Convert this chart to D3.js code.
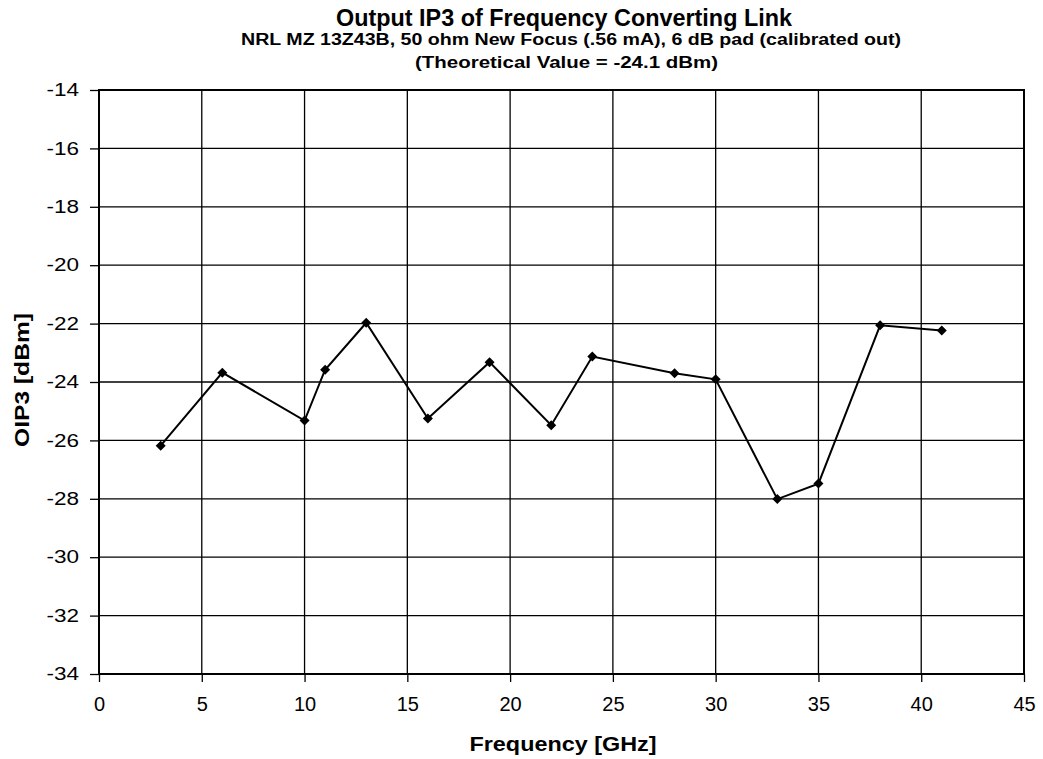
<!DOCTYPE html>
<html><head><meta charset="utf-8">
<script src="https://cdn.jsdelivr.net/npm/d3@7"></script>
<style>body{margin:0;background:#fff}svg{display:block}text{font-family:"Liberation Sans",Arial,sans-serif;fill:#000}</style>
</head><body>
<svg id="c" width="1043" height="759"></svg>
<script>
const freq = [3, 6, 10, 11, 13, 16, 19, 22, 24, 28, 30, 33, 35, 38, 41];
const oip3 = [-26.18, -23.68, -25.32, -23.58, -21.97, -25.25, -23.32, -25.48, -23.13, -23.70, -23.91, -28.01, -27.48, -22.06, -22.24];
const xTicks = [0, 5, 10, 15, 20, 25, 30, 35, 40, 45];
const yTicks = [-14, -16, -18, -20, -22, -24, -26, -28, -30, -32, -34];
const title = "Output IP3 of Frequency Converting Link";
const subtitle1 = "NRL MZ 13Z43B, 50 ohm New Focus (.56 mA), 6 dB pad (calibrated out)";
const subtitle2 = "(Theoretical Value = -24.1 dBm)";
const xLabel = "Frequency [GHz]";
const yLabel = "OIP3 [dBm]";

const svg = d3.select("#c");
const L = 99, R = 1024, T = 90, B = 674;
const x = d3.scaleLinear().domain([0, 45]).range([L, R]);
const y = d3.scaleLinear().domain([-34, -14]).range([B, T]);

// grid
svg.append("g").selectAll("line").data(xTicks).join("line")
  .attr("x1", d => x(d)).attr("x2", d => x(d)).attr("y1", T).attr("y2", B)
  .attr("stroke", "#000").attr("stroke-width", 1.3);
svg.append("g").selectAll("line").data(yTicks).join("line")
  .attr("x1", L).attr("x2", R).attr("y1", d => y(d)).attr("y2", d => y(d))
  .attr("stroke", "#000").attr("stroke-width", 1.3);

// axes
const xa = svg.append("g").attr("transform", `translate(0,${B})`)
  .call(d3.axisBottom(x).tickValues(xTicks).tickSize(8).tickPadding(15).tickFormat(d3.format("d")));
const ya = svg.append("g").attr("transform", `translate(${L},0)`)
  .call(d3.axisLeft(y).tickValues(yTicks).tickSize(9).tickPadding(11).tickFormat(d => d3.format("d")(d).replace("−","-")));
[xa, ya].forEach(a => {
  a.select(".domain").remove();
  a.selectAll("line").attr("stroke", "#000").attr("stroke-width", 1.3);
  a.selectAll("text").attr("font-family", "Liberation Sans, Arial, sans-serif").attr("fill", "#000");
});
xa.selectAll("text").attr("font-size", 20);
ya.selectAll("text").attr("font-size", 18).each(function() {
  const w = this.getComputedTextLength();
  d3.select(this).attr("textLength", w * 1.25).attr("lengthAdjust", "spacingAndGlyphs");
});

// border
svg.append("rect").attr("x", L).attr("y", T).attr("width", R - L).attr("height", B - T)
  .attr("fill", "none").attr("stroke", "#000").attr("stroke-width", 2);

// line
const pts = freq.map((f, i) => [f, oip3[i]]);
svg.append("path").datum(pts)
  .attr("d", d3.line().x(d => x(d[0])).y(d => y(d[1])))
  .attr("fill", "none").attr("stroke", "#000").attr("stroke-width", 2);
svg.append("g").selectAll("path").data(pts).join("path")
  .attr("transform", d => `translate(${x(d[0])},${y(d[1])})`)
  .attr("d", "M0,-5L5,0L0,5L-5,0Z").attr("fill", "#000");

// titles
function txt(s, cx, cy, size, len, rot) {
  const t = svg.append("text").attr("text-anchor", "middle")
    .attr("font-size", size).attr("font-weight", "bold")
    .attr("textLength", len).attr("lengthAdjust", "spacingAndGlyphs").text(s);
  if (rot) t.attr("transform", `translate(${cx},${cy}) rotate(-90)`);
  else t.attr("x", cx).attr("y", cy);
  return t;
}
txt(title, 564, 26, 23, 456);
txt(subtitle1, 571, 45, 16, 660);
txt(subtitle2, 566.5, 68, 16, 303);
txt(xLabel, 563, 751, 21, 187);
txt(yLabel, 29, 380, 21, 134, true);
</script>
</body></html>
